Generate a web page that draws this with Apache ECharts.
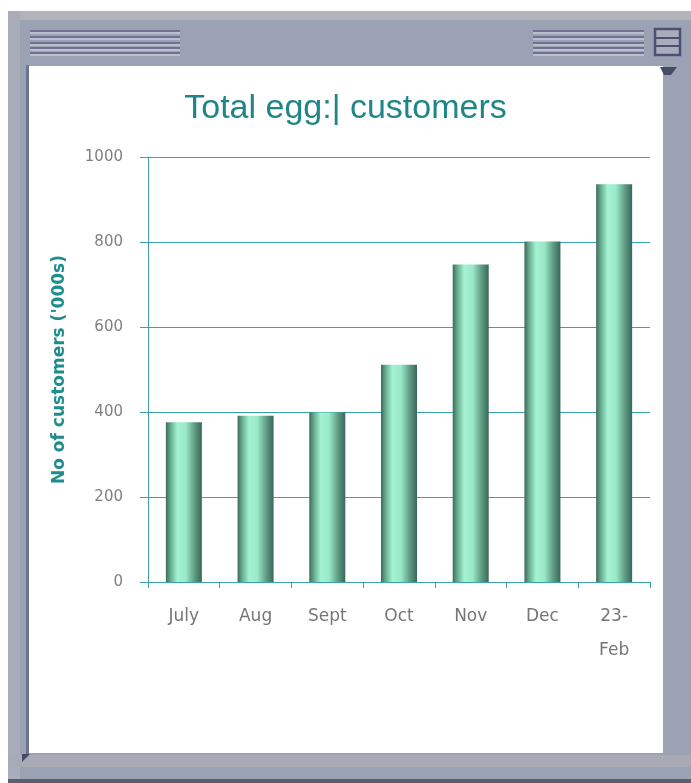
<!DOCTYPE html>
<html>
<head>
<meta charset="utf-8">
<script src="https://cdn.jsdelivr.net/npm/echarts@6/dist/echarts.min.js"></script>
<style>
html,body{margin:0;padding:0;background:#fff;}
#c{width:691px;height:783px;}
</style>
</head>
<body>
<div id="c"></div>
<script>
const categories = ['July', 'Aug', 'Sept', 'Oct', 'Nov', 'Dec', '23-\nFeb'];
const customers = [376, 391, 399, 511, 747, 801, 936];
const yTicks = [0, 200, 400, 600, 800, 1000];
const titleText = 'Total egg:| customers';
const yName = "No of customers ('000s)";

const chart = echarts.init(document.getElementById('c'), null, {renderer: 'canvas'});

function barLines(x0, x1) {
  const els = [];
  const darkY = [30, 36, 42, 47, 52];
  darkY.forEach(y => {
    els.push({type: 'rect', shape: {x: x0, y: y, width: x1 - x0, height: 2}, style: {fill: '#6f7292'}, silent: true});
    els.push({type: 'rect', shape: {x: x0, y: y + 2, width: x1 - x0, height: 2}, style: {fill: '#bcc0cc'}, silent: true});
  });
  return els;
}

const frame = [
  {type: 'rect', shape: {x: 8, y: 11, width: 683, height: 770}, style: {fill: '#9ba2b3'}, silent: true, z: -10},
  {type: 'rect', shape: {x: 8, y: 11, width: 683, height: 9}, style: {fill: '#b3b3bb'}, silent: true, z: -9},
  {type: 'rect', shape: {x: 8, y: 11, width: 12, height: 770}, style: {fill: '#a9adba'}, silent: true, z: -9},
  {type: 'rect', shape: {x: 8, y: 755, width: 683, height: 12}, style: {fill: '#a8abb6'}, silent: true, z: -9},
  {type: 'rect', shape: {x: 8, y: 779, width: 683, height: 4}, style: {fill: '#5a5e70'}, silent: true, z: -9},
  {type: 'rect', shape: {x: 26, y: 65, width: 3, height: 690}, style: {fill: '#6f7390'}, silent: true, z: -8},
  {type: 'rect', shape: {x: 29, y: 66, width: 634, height: 687}, style: {fill: '#ffffff'}, silent: true, z: -8},
  ...barLines(30, 180).map(e => Object.assign(e, {z: -8})),
  ...barLines(533, 644).map(e => Object.assign(e, {z: -8})),
  {type: 'rect', shape: {x: 655, y: 29, width: 25, height: 26}, style: {fill: '#a8acbc', stroke: '#4d5070', lineWidth: 2.5}, silent: true, z: -7},
  {type: 'rect', shape: {x: 655, y: 37, width: 25, height: 2}, style: {fill: '#4d5070'}, silent: true, z: -7},
  {type: 'rect', shape: {x: 655, y: 45, width: 25, height: 2}, style: {fill: '#4d5070'}, silent: true, z: -7},
  {type: 'polygon', shape: {points: [[660, 67], [677, 67], [671, 75], [664, 75]]}, style: {fill: '#474b68'}, silent: true, z: -7},
  {type: 'polygon', shape: {points: [[22, 754], [30, 754], [22, 762]]}, style: {fill: '#474b68'}, silent: true, z: -7}
];

const option = {
  animation: false,
  backgroundColor: '#ffffff',
  graphic: frame,
  title: {
    text: titleText,
    left: 'center',
    top: 87,
    textStyle: {color: '#1f8587', fontSize: 34, fontWeight: 'normal', fontFamily: 'Liberation Sans'}
  },
  grid: {left: 148, right: 41, top: 157, bottom: 201, containLabel: false},
  xAxis: {
    type: 'category',
    data: categories,
    axisLine: {lineStyle: {color: '#3aa2aa', width: 1}},
    axisTick: {show: true, length: 6, lineStyle: {color: '#3aa2aa'}},
    axisLabel: {
      color: '#767676', fontSize: 17, fontFamily: 'DejaVu Sans', margin: 18, lineHeight: 34, interval: 0
    }
  },
  yAxis: {
    type: 'value',
    min: yTicks[0],
    max: yTicks[yTicks.length - 1],
    interval: 200,
    name: yName,
    nameLocation: 'middle',
    nameGap: 80,
    nameRotate: 90,
    nameTextStyle: {color: '#1f8c8e', fontSize: 17, fontWeight: 'bold', fontFamily: 'DejaVu Sans'},
    axisLine: {show: true, lineStyle: {color: '#3aa2aa', width: 1}},
    axisTick: {show: true, length: 8, lineStyle: {color: '#3aa2aa'}},
    axisLabel: {color: '#808080', fontSize: 15, fontFamily: 'DejaVu Sans', margin: 25, formatter: v => String(v)},
    splitLine: {show: true, lineStyle: {color: '#3aa2aa', width: 1}}
  },
  series: [{
    type: 'bar',
    data: customers,
    barWidth: 36,
    itemStyle: {
      color: new echarts.graphic.LinearGradient(0, 0, 1, 0, [
        {offset: 0, color: '#3b6b58'},
        {offset: 0.12, color: '#64a88b'},
        {offset: 0.32, color: '#a3f3d3'},
        {offset: 0.55, color: '#9be9c9'},
        {offset: 0.8, color: '#5e9c82'},
        {offset: 1, color: '#38675a'}
      ])
    }
  }]
};
chart.setOption(option);
</script>
</body>
</html>
